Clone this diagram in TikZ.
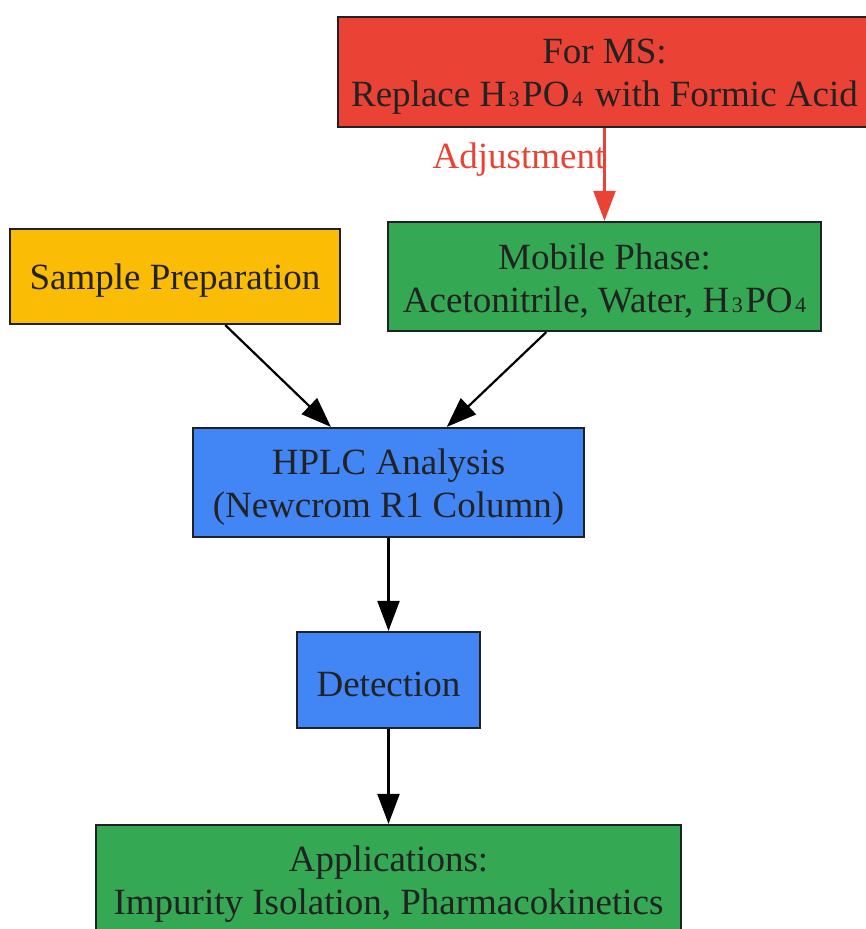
\documentclass[tikz,border=0pt]{standalone}
\usepackage{fontspec}
\setmainfont{Liberation Serif}
\usetikzlibrary{arrows.meta}
\definecolor{gred}{HTML}{EA4335}
\definecolor{ggreen}{HTML}{34A853}
\definecolor{gyellow}{HTML}{FBBC05}
\definecolor{gblue}{HTML}{4285F4}
\definecolor{bord}{HTML}{202124}
\definecolor{txt}{HTML}{222222}
\newcommand{\sbd}[1]{\hspace{2.5pt}{\fontsize{22}{22}\selectfont #1}\hspace{2.5pt}}
\tikzset{
  box/.style={draw=bord, line width=2.2pt, rectangle, inner sep=0pt},
  boxtext/.style={inner sep=0pt, align=center, text=txt, font=\fontsize{37}{43}\selectfont},
  conn/.style={line width=2.2pt, -{Triangle[length=30pt,width=22pt]}},
}
\begin{document}
\begin{tikzpicture}[x=1pt,y=-1pt]
\useasboundingbox (0,0) rectangle (866,929);
\node[box, fill=gred, minimum width=533pt, minimum height=110pt] (ms) at (604.5,72) {};
\node[boxtext] (mst) at ([yshift=-5pt]ms.center) {For MS:\\Replace H\sbd{3}PO\sbd{4} with Formic Acid};
\node[box, fill=ggreen, minimum width=433pt, minimum height=109pt] (mob) at (604.5,276.5) {};
\node[boxtext] (mobt) at ([yshift=-5pt]mob.center) {Mobile Phase:\\Acetonitrile, Water, H\sbd{3}PO\sbd{4}};
\node[box, fill=gyellow, minimum width=330pt, minimum height=95pt] (samp) at (175,276.5) {};
\node[boxtext] (sampt) at ([yshift=-4pt]samp.center) {Sample Preparation};
\node[box, fill=gblue, minimum width=391pt, minimum height=109pt] (hplc) at (388.5,482.5) {};
\node[boxtext] (hplct) at ([yshift=-5pt]hplc.center) {HPLC Analysis\\(Newcrom R1 Column)};
\node[box, fill=gblue, minimum width=183pt, minimum height=96pt] (det) at (388.5,680) {};
\node[boxtext] (dett) at ([yshift=-4pt]det.center) {Detection};
\node[box, fill=ggreen, minimum width=585pt, minimum height=109pt] (app) at (388.5,879.5) {};
\node[boxtext] (appt) at ([yshift=-5pt]app.center) {Applications:\\Impurity Isolation, Pharmacokinetics};
\draw[conn, draw=gred, fill=gred] (ms) -- node[pos=0.32, anchor=east, inner sep=0pt, text=gred, font=\fontsize{37}{43}\selectfont, xshift=2pt, yshift=-2pt] (adj) {Adjustment} (mob);
\draw[conn] (samp) -- (hplc);
\draw[conn] (mob) -- (hplc);
\draw[conn] (hplc) -- (det);
\draw[conn] (det) -- (app);
\end{tikzpicture}
\end{document}
